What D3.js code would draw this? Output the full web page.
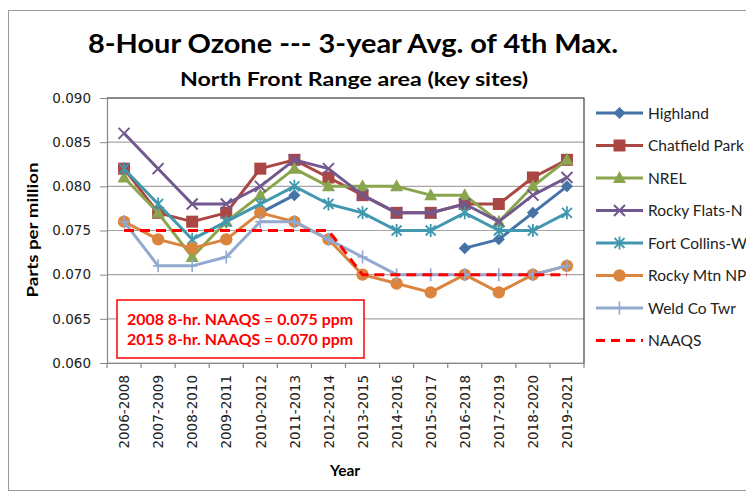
<!DOCTYPE html>
<html><head><meta charset="utf-8">
<script src="https://cdn.jsdelivr.net/npm/d3@7"></script>
<style>body{margin:0;background:#fff}svg{display:block}</style>
</head><body>
<script>
const categories = ["2006-2008","2007-2009","2008-2010","2009-2011","2010-2012","2011-2013","2012-2014","2013-2015","2014-2016","2015-2017","2016-2018","2017-2019","2018-2020","2019-2021"];
const highland    = [null,null,null,null,0.077,0.079,null,null,null,null,0.073,0.074,0.077,0.080];
const chatfield   = [0.082,0.077,0.076,0.077,0.082,0.083,0.081,0.079,0.077,0.077,0.078,0.078,0.081,0.083];
const nrel        = [0.081,0.077,0.072,0.076,0.079,0.082,0.080,0.080,0.080,0.079,0.079,0.076,0.080,0.083];
const rockyFlats  = [0.086,0.082,0.078,0.078,0.080,0.083,0.082,0.079,0.077,0.077,0.078,0.076,0.079,0.081];
const fortCollins = [0.082,0.078,0.074,0.076,0.078,0.080,0.078,0.077,0.075,0.075,0.077,0.075,0.075,0.077];
const rockyMtn    = [0.076,0.074,0.073,0.074,0.077,0.076,0.074,0.070,0.069,0.068,0.070,0.068,0.070,0.071];
const weldCo      = [0.076,0.071,0.071,0.072,0.076,0.076,0.074,0.072,0.070,0.070,0.070,0.070,0.070,0.071];
const naaqs       = [0.075,0.075,0.075,0.075,0.075,0.075,0.075,0.070,0.070,0.070,0.070,0.070,0.070,0.070];
const yTicks = [0.060,0.065,0.070,0.075,0.080,0.085,0.090];
const seriesNames = ["Highland","Chatfield Park","NREL","Rocky Flats-N","Fort Collins-W","Rocky Mtn NP","Weld Co Twr","NAAQS"];

const series = [
  {name:seriesNames[0], values:highland,    color:"#4572A7", marker:"diamond"},
  {name:seriesNames[1], values:chatfield,   color:"#AA4643", marker:"square"},
  {name:seriesNames[2], values:nrel,        color:"#89A54E", marker:"triangle"},
  {name:seriesNames[3], values:rockyFlats,  color:"#71588F", marker:"x"},
  {name:seriesNames[4], values:fortCollins, color:"#4198AF", marker:"star"},
  {name:seriesNames[5], values:rockyMtn,    color:"#DB843D", marker:"circle"},
  {name:seriesNames[6], values:weldCo,      color:"#93A9CF", marker:"plus"},
  {name:seriesNames[7], values:naaqs,       color:"#FF0000", marker:null, dash:"10,6"}
];

const W = 746, H = 492;
const L = 107, R = 584, T = 98, B = 363;
const svg = d3.select("body").append("svg").attr("width",W).attr("height",H);

// outer chart border
svg.append("rect").attr("x",8.5).attr("y",10.5).attr("width",800).attr("height",480)
  .attr("fill","none").attr("stroke","#9a9a9a").attr("stroke-width",1);

const x = d3.scalePoint().domain(categories).range([L,R]).padding(0.5);
const xb = d3.scaleBand().domain(categories).range([L,R]);
const y = d3.scaleLinear().domain([0.060,0.090]).range([B,T]);

// gridlines
svg.append("g").selectAll("line").data(yTicks).join("line")
  .attr("x1",L).attr("x2",R).attr("y1",d=>y(d)).attr("y2",d=>y(d))
  .attr("stroke","#a6a6a6").attr("stroke-width",1.2);

// plot border (top/right)
svg.append("path").attr("d",`M${L},${T}H${R}V${B}`).attr("fill","none")
  .attr("stroke","#404040").attr("stroke-width",1.2);

// y axis
const ya = svg.append("g").attr("transform",`translate(${L},0)`)
  .call(d3.axisLeft(y).tickValues(yTicks).tickFormat(d3.format(".3f")).tickSize(7).tickPadding(9));
ya.select(".domain").attr("stroke","#868686").attr("stroke-width",1.2);
ya.selectAll(".tick line").attr("stroke","#868686");
ya.selectAll("text").attr("font-family","DejaVu Sans").attr("font-size",13.5).attr("fill","#222");

// x axis
const xa = svg.append("g").attr("transform",`translate(0,${B})`)
  .call(d3.axisBottom(x).tickSize(0).tickPadding(0));
xa.select(".domain").attr("stroke","#868686").attr("stroke-width",1.2);
xa.selectAll("text").attr("font-family","DejaVu Sans").attr("font-size",13.5).attr("fill","#222")
  .attr("text-anchor","end").attr("transform","translate(0,12) rotate(-90)")
  .attr("dy","0.35em").attr("y",0).attr("x",0);
svg.append("g").selectAll("line").data(categories.concat([null])).join("line")
  .attr("x1",d=>d===null?R:xb(d)).attr("x2",d=>d===null?R:xb(d))
  .attr("y1",B).attr("y2",B+5).attr("stroke","#868686").attr("stroke-width",1.2);

// markers
function marker(g, type, color){
  if(type==="diamond") g.append("path").attr("d","M0,-6L6,0L0,6L-6,0Z").attr("fill",color);
  else if(type==="square") g.append("rect").attr("x",-6).attr("y",-6).attr("width",12).attr("height",12).attr("fill",color);
  else if(type==="triangle") g.append("path").attr("d","M0,-7L6.5,5L-6.5,5Z").attr("fill",color);
  else if(type==="circle") g.append("circle").attr("r",6.2).attr("fill",color);
  else if(type==="x") g.append("path").attr("d","M-5.5,-5.5L5.5,5.5M-5.5,5.5L5.5,-5.5").attr("stroke",color).attr("stroke-width",2);
  else if(type==="star") g.append("path").attr("d","M-5,-5L5,5M-5,5L5,-5M0,-6.5V6.5").attr("stroke",color).attr("stroke-width",1.8);
  else if(type==="plus") g.append("path").attr("d","M0,-6.5V6.5M-5,0H5").attr("stroke",color).attr("stroke-width",1.6);
}

const line = d3.line().defined(d=>d.v!==null).x(d=>x(d.c)).y(d=>y(d.v));
series.forEach(s=>{
  const pts = categories.map((c,i)=>({c, v:s.values[i]}));
  const g = svg.append("g");
  g.append("path").attr("d",line(pts)).attr("fill","none").attr("stroke",s.color)
    .attr("stroke-width",3).attr("stroke-linejoin","round")
    .attr("stroke-dasharray",s.dash||null);
  if(s.marker){
    pts.filter(d=>d.v!==null).forEach(d=>{
      marker(g.append("g").attr("transform",`translate(${x(d.c)},${y(d.v)})`), s.marker, s.color);
    });
  }
});

// legend
series.forEach((s,i)=>{
  const ly = 113 + i*32.5;
  const g = svg.append("g").attr("transform",`translate(0,${ly})`);
  g.append("line").attr("x1",596).attr("x2",643).attr("y1",0).attr("y2",0)
    .attr("stroke",s.color).attr("stroke-width",3).attr("stroke-dasharray",s.dash?"9,6":null);
  if(s.marker) marker(g.append("g").attr("transform","translate(619.5,0)"), s.marker, s.color);
  g.append("text").attr("x",648).attr("y",0).attr("dy","0.36em")
    .attr("font-family","Lato").attr("font-size",15.5).attr("fill","#222").text(s.name);
});

// titles
svg.append("text").attr("x",88).attr("y",53).attr("font-family","Lato").attr("font-weight","bold")
  .attr("font-size",27.5).attr("textLength",530).attr("lengthAdjust","spacingAndGlyphs")
  .text("8-Hour Ozone --- 3-year Avg. of 4th Max.");
svg.append("text").attr("x",180).attr("y",86).attr("font-family","Lato").attr("font-weight","bold")
  .attr("font-size",19).attr("textLength",348).attr("lengthAdjust","spacingAndGlyphs")
  .text("North Front Range area (key sites)");
svg.append("text").attr("transform","translate(38,230) rotate(-90)").attr("text-anchor","middle")
  .attr("font-family","Lato").attr("font-weight","bold").attr("font-size",15)
  .attr("textLength",135).attr("lengthAdjust","spacingAndGlyphs").text("Parts per million");
svg.append("text").attr("x",345).attr("y",476).attr("text-anchor","middle")
  .attr("font-family","Lato").attr("font-weight","bold").attr("font-size",15.5).text("Year");

// annotation box
svg.append("rect").attr("x",117).attr("y",300).attr("width",247).attr("height",58)
  .attr("fill","#fff").attr("stroke","#FF0000").attr("stroke-width",1.5);
svg.append("text").attr("x",127).attr("y",325).attr("font-family","Lato").attr("font-weight","bold")
  .attr("font-size",14.5).attr("fill","#FF0000").attr("textLength",226).attr("lengthAdjust","spacingAndGlyphs")
  .text("2008 8-hr. NAAQS = 0.075 ppm");
svg.append("text").attr("x",127).attr("y",345).attr("font-family","Lato").attr("font-weight","bold")
  .attr("font-size",14.5).attr("fill","#FF0000").attr("textLength",226).attr("lengthAdjust","spacingAndGlyphs")
  .text("2015 8-hr. NAAQS = 0.070 ppm");
</script>
</body></html>
